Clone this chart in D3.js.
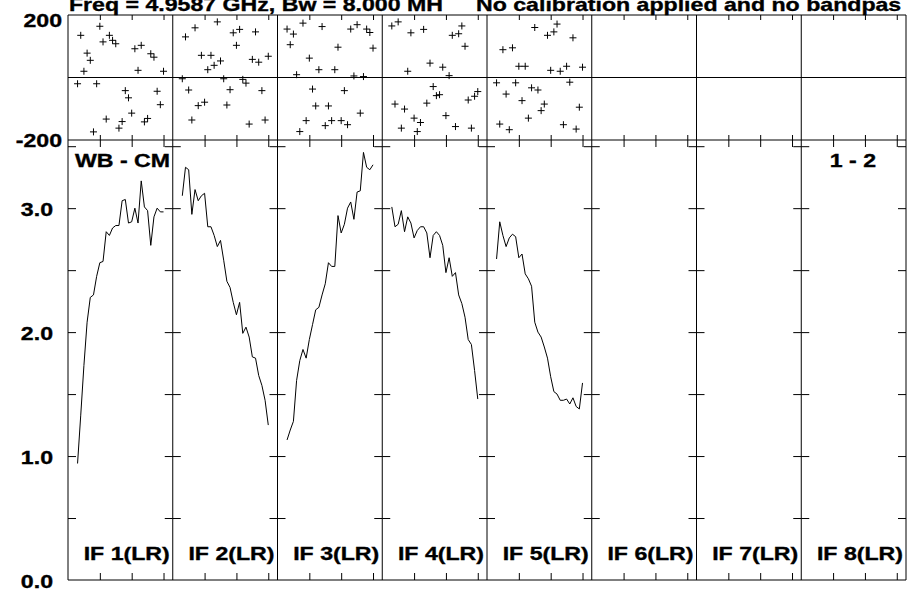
<!DOCTYPE html>
<html><head><meta charset="utf-8">
<script src="https://cdn.jsdelivr.net/npm/d3@7"></script>
<style>body{margin:0;background:#fff}svg{display:block}text{font-family:"Liberation Sans",Arial,Helvetica,sans-serif;font-weight:bold;font-size:18.5px;fill:#000;stroke:#000;stroke-width:0.35px}</style>
</head><body>
<svg id="c" width="907" height="591"></svg>
<script>
// ---- data ----
const channels = d3.range(3, 31); // 28 channels per IF
const ifLabels = ["IF 1(LR)","IF 2(LR)","IF 3(LR)","IF 4(LR)","IF 5(LR)","IF 6(LR)","IF 7(LR)","IF 8(LR)"];
const ampTickLabels = [0, 1, 2, 3];
const phaseTickLabels = [200, -200];
const chanTicks = [10, 20, 30];
const titleLeft = "Freq = 4.9587 GHz, Bw = 8.000 MH";
const titleRight = "No calibration applied and no bandpas";
const sourceLabel = "WB - CM";
const baselineLabel = "1 - 2";

const amp1 = [0.94,1.33,1.73,2.08,2.28,2.30,2.45,2.56,2.57,2.81,2.78,2.84,2.86,2.86,3.06,3.07,2.88,2.89,3.00,2.88,3.22,3.01,2.98,2.70,2.93,3.00,2.97,2.97];
const amp2 = [3.10,3.33,3.31,2.95,3.15,3.06,3.10,3.12,2.85,2.85,2.78,2.69,2.74,2.58,2.41,2.36,2.24,2.14,2.24,1.99,2.04,1.96,1.80,1.79,1.65,1.57,1.45,1.25];
const amp3 = [1.13,1.21,1.28,1.61,1.77,1.86,1.79,1.94,2.06,2.18,2.20,2.30,2.39,2.56,2.53,2.53,2.94,2.80,2.87,3.00,3.05,2.91,3.13,3.14,3.45,3.33,3.31,3.35];
const amp4 = [3.01,2.85,2.87,2.98,2.81,2.93,2.88,2.76,2.82,2.85,2.85,2.80,2.60,2.78,2.81,2.78,2.70,2.48,2.60,2.45,2.48,2.30,2.23,2.12,1.94,1.90,1.69,1.46];
const amp5 = [2.59,2.89,2.78,2.69,2.76,2.79,2.77,2.60,2.63,2.47,2.43,2.37,2.08,2.00,1.96,1.88,1.79,1.64,1.52,1.50,1.45,1.45,1.46,1.42,1.47,1.40,1.38,1.59];

const phase1 = [-20,135,20,78,55,-174,-20,164,114,-133,135,119,108,-162,-141,-42,-65,-114,92,23,103,-142,-131,76,65,-44,-87,20];
const phase2 = [-4,130,-40,-136,159,-90,71,-79,25,71,39,178,53,-4,-88,-39,143,103,154,-6,-18,-149,58,146,49,-42,-136,68];
const phase3 = [155,105,139,9,-173,174,-138,62,-37,-91,25,163,-154,-91,-138,25,97,-138,-42,-151,155,5,169,-114,3,155,144,94];
const phase4 = [165,-85,178,-162,-101,20,143,-130,-173,-144,154,-82,46,-29,-58,-55,33,-122,6,135,-157,140,165,100,-72,-162,-60,-45];
const phase5 = [-17,-149,89,-53,-167,95,-17,36,-74,36,-130,-33,160,-40,-106,-85,135,23,146,171,20,-151,36,-15,127,-165,-95,33];

const ampSeries = [amp1, amp2, amp3, amp4, amp5];
const phaseSeries = [phase1, phase2, phase3, phase4, phase5];

// ---- layout ----
const L = 68, R = 906, nP = 8, pw = (R - L) / nP;
const phTop = 15, phBot = 140, amTop = 140, amBot = 580;
const SX = 1.25;

const svg = d3.select("#c");
const g = svg.append("g");

const yAmp = d3.scaleLinear().domain([0, 3.55]).range([amBot, amTop]);
const yPh = d3.scaleLinear().domain([-200, 200]).range([phBot, phTop]);
const panelX = d3.scaleLinear().domain([0, nP]).range([L, R]);

function stext(x, y, str, anchor) {
  g.append("text")
    .attr("transform", `translate(${x},${y}) scale(${SX},1)`)
    .attr("text-anchor", anchor || "start")
    .text(str);
}

const line = (x) => d3.line().x((d, i) => x(channels[i])).y(d => yAmp(d));

for (let p = 0; p < nP; p++) {
  const px = panelX(p);
  const x = d3.scaleLinear().domain([0, 32.9]).range([px, px + pw]);
  const pg = g.append("g");

  // x ticks
  const ax = [
    [d3.axisBottom(x).tickSize(-7), amBot],
    [d3.axisTop(x).tickSize(-7), amTop],
    [d3.axisBottom(x).tickSize(-5), phBot],
    [d3.axisTop(x).tickSize(-5), phTop]
  ];
  ax.forEach(([a, yy]) => {
    const gg = pg.append("g").attr("transform", `translate(0,${yy})`)
      .call(a.tickValues(chanTicks).tickFormat(""));
    gg.select(".domain").remove();
    gg.selectAll("line").attr("stroke", "#000").attr("stroke-width", 1);
  });
  // y ticks on amplitude panel
  const yt = d3.range(0.5, 3.51, 0.5);
  [[d3.axisLeft(yAmp), px], [d3.axisRight(yAmp), px + pw]].forEach(([a, xx]) => {
    const gg = pg.append("g").attr("transform", `translate(${xx},0)`)
      .call(a.tickValues(yt).tickSize(-8).tickFormat(""));
    gg.select(".domain").remove();
    gg.selectAll("line").attr("stroke", "#000").attr("stroke-width", 1);
  });

  if (p < ampSeries.length) {
    pg.append("path").datum(ampSeries[p])
      .attr("d", line(x))
      .attr("fill", "none").attr("stroke", "#000").attr("stroke-width", 1);
    const pts = phaseSeries[p];
    pg.selectAll("path.pt").data(pts).enter().append("path")
      .attr("class", "pt")
      .attr("d", (d, i) => {
        const cx = x(channels[i]), cy = yPh(d), s = 3.5;
        return `M${cx - s},${cy}H${cx + s}M${cx},${cy - s}V${cy + s}`;
      })
      .attr("stroke", "#000").attr("stroke-width", 1).attr("fill", "none");
  }

  stext(px + pw - 3, 560, ifLabels[p], "end");
}

// frame lines
const frame = g.append("g").attr("stroke", "#000").attr("stroke-width", 1);
[phTop, yPh(0), phBot, amBot].forEach(yy => {
  frame.append("line").attr("x1", L).attr("x2", R).attr("y1", yy).attr("y2", yy);
});
d3.range(0, nP + 1).forEach(i => {
  const xx = panelX(i);
  frame.append("line").attr("x1", xx).attr("x2", xx).attr("y1", phTop).attr("y2", amBot);
});

// labels
phaseTickLabels.forEach(v => stext(62, yPh(v) + (v > 0 ? 12 : 6.5), String(v), "end"));
ampTickLabels.forEach(v => stext(53, yAmp(v) + 8, d3.format(".1f")(v), "end"));
stext(75, 166.5, sourceLabel, "start");
stext(876, 167, baselineLabel, "end");
stext(69, 10.5, titleLeft, "start");
stext(476, 10.5, titleRight, "start");
</script>
</body></html>
